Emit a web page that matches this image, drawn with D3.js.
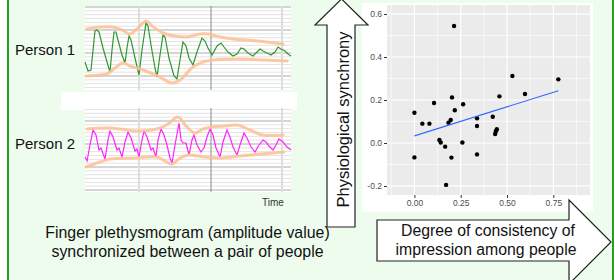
<!DOCTYPE html>
<html>
<head>
<meta charset="utf-8">
<script src="https://cdn.jsdelivr.net/npm/d3@7"></script>
<style>
body { margin: 0; background: #ffffff; }
svg { display: block; font-family: "Liberation Sans", Arial, sans-serif; }
</style>
</head>
<body>
<div class="chart"></div>
<script>
// Waveforms: [time sample, amplitude]
var person1Wave = [[0,28],[3,19],[6,20],[10,59],[12,60],[14,58],[18,42],[22,28],[25,18],[27,40],[29,58],[31,58],[33,50],
	[37,35],[40,27],[42,42],[44,54],[46,50],[50,32],[54,15],[57,40],[61,67],[63,64],[66,45],[70,22],[72,13],[75,35],
	[78,55],[80,53],[84,32],[89,14],[92,11],[95,30],[98,48],[101,44],[104,32],[108,25],[112,38],[117,52],[120,49],
	[123,42],[127,35],[132,44],[136,47],[139,43],[143,38],[148,34],[152,36],[156,42],[159,41],[163,37],[168,34],
	[171,37],[175,41],[178,39],[182,37],[186,35],[190,38],[193,43],[196,41],[200,39],[203,36],[206,34]];
var person1Upper = [[2,61],[15,63],[28,63],[37,60],[45,56],[53,62],[61,69],[67,64],[78,57],[90,54],[102,53],
	[115,56],[123,56],[135,53],[148,51],[173,49],[198,46]];
var person1Lower = [[1,14],[15,15],[22,16],[30,22],[38,27],[45,24],[58,20],[73,14],[87,7],[95,10],[108,23],
	[118,28],[128,30],[155,31],[180,30],[202,29]];

var person2Wave = [[0,35],[2,31],[5,47],[8,62],[11,57],[14,42],[16,44],[20,33],[23,52],[25,61],[28,55],[32,42],
	[34,44],[37,35],[40,50],[43,60],[46,54],[50,41],[52,43],[54,35],[57,52],[59,61],[62,55],[66,42],[68,44],[71,35],
	[73,52],[76,63],[79,57],[82,47],[85,34],[87,29],[90,47],[94,69],[96,52],[98,49],[101,49],[104,37],[107,52],
	[109,57],[112,47],[116,40],[119,44],[122,55],[125,63],[128,57],[131,44],[135,35],[138,50],[142,62],[145,55],
	[148,45],[152,37],[155,47],[159,59],[162,54],[166,45],[170,40],[174,47],[178,52],[181,50],[184,46],[188,42],
	[191,47],[194,53],[198,50],[202,45],[206,42]];
var person2Upper = [[2,63],[25,64],[55,61],[75,64],[83,68],[93,75],[101,66],[110,59],[118,63],[127,65],[140,66],
	[152,67],[165,62],[177,57],[198,57]];
var person2Lower = [[1,25],[15,30],[25,33],[50,34],[72,35],[80,31],[87,28],[95,34],[103,37],[120,35],[137,34],
	[155,36],[175,38],[199,40]];

// Scatter: consistency of impression vs physiological synchrony
var consistency = [0.214, 0.529, 0.777, 0.597, 0.459, 0.203, 0.106, 0.263, 0.218, 0.000, 0.338, 0.423, 0.196, 0.184,
	0.043, 0.081, 0.338, 0.445, 0.440, 0.436, 0.135, 0.142, 0.166, 0.259, 0.000, 0.200, 0.338, 0.171];
var synchrony = [0.544, 0.312, 0.296, 0.228, 0.217, 0.212, 0.186, 0.180, 0.152, 0.141, 0.115, 0.122, 0.107, 0.094,
	0.090, 0.090, 0.079, 0.064, 0.055, 0.042, 0.014, 0.002, -0.017, 0.002, -0.067, -0.068, -0.053, -0.195];
var fitLine = [[0, 0.033], [0.777, 0.243]];
var yTicks = [-0.2, 0.0, 0.2, 0.4, 0.6];
var yMinor = [-0.1, 0.1, 0.3, 0.5];
var xTicks = [0, 0.25, 0.5, 0.75];
var xMinor = [-0.125, 0.125, 0.375, 0.625, 0.875];

var width = 615;
var height = 280;

var svg = d3.select(".chart").append("svg")
	.attr("width", width)
	.attr("height", height);

// light green slide background with green side borders
svg.append("rect")
	.attr("x", 8).attr("y", 0)
	.attr("width", 605).attr("height", height)
	.attr("fill", "#eefcee");
[8, 613].forEach(function(xPos) {
	svg.append("line")
		.attr("x1", xPos).attr("x2", xPos)
		.attr("y1", 0).attr("y2", height)
		.attr("stroke", "#22a022")
		.attr("stroke-width", 2);
});

// white box between the two recordings
svg.append("rect")
	.attr("x", 61).attr("y", 92)
	.attr("width", 236).attr("height", 18)
	.attr("fill", "#ffffff");

function drawWave(top, gridStart, majorOffset, wave, upper, lower, color) {
	var x = d3.scaleLinear().domain([0, 206]).range([85, 291]);
	var y = d3.scaleLinear().domain([0, 84]).range([top + 84, top]);
	var g = svg.append("g");

	g.append("rect")
		.attr("x", 85).attr("y", top)
		.attr("width", 206).attr("height", 84)
		.attr("fill", "#ffffff");

	// horizontal grid: 6 minor steps per major step
	var step = 23 / 6;
	for(var k = 0; gridStart + k * step <= top + 84; k++) {
		var yy = gridStart + k * step;
		var major = (k - majorOffset) % 6 === 0;
		g.append("line")
			.attr("x1", 85).attr("x2", 291)
			.attr("y1", yy).attr("y2", yy)
			.attr("stroke", major ? "#ababab" : "#e4e4e4")
			.attr("stroke-width", 1);
	}

	// vertical grid
	[[54, "#dddddd", 2], [126, "#8a8a8a", 1], [197, "#dddddd", 2]].forEach(function(v) {
		g.append("line")
			.attr("x1", x(v[0])).attr("x2", x(v[0]))
			.attr("y1", top).attr("y2", top + 84)
			.attr("stroke", v[1])
			.attr("stroke-width", v[2]);
	});

	var line = d3.line()
		.x(function(d) { return x(d[0]); })
		.y(function(d) { return y(d[1]); });

	var envLine = d3.line()
		.curve(d3.curveCatmullRom.alpha(0.5))
		.x(function(d) { return x(d[0]); })
		.y(function(d) { return y(d[1]); });

	g.append("path")
		.attr("d", line(wave))
		.attr("fill", "none")
		.attr("stroke", color)
		.attr("stroke-width", 1.2);

	[upper, lower].forEach(function(env) {
		g.append("path")
			.attr("d", envLine(env))
			.attr("fill", "none")
			.attr("stroke", "#fdbf93")
			.attr("stroke-opacity", 0.85)
			.attr("stroke-width", 3)
			.attr("stroke-linecap", "round");
	});
}

drawWave(6, 7, 0, person1Wave, person1Upper, person1Lower, "#2e982e");
drawWave(108, 109.5, 3, person2Wave, person2Upper, person2Lower, "#ff22ff");

svg.append("text")
	.attr("x", 15).attr("y", 55)
	.attr("font-size", 15)
	.attr("fill", "#111")
	.text("Person 1");
svg.append("text")
	.attr("x", 15).attr("y", 149)
	.attr("font-size", 15)
	.attr("fill", "#111")
	.text("Person 2");
svg.append("text")
	.attr("x", 273).attr("y", 205.5)
	.attr("text-anchor", "middle")
	.attr("font-size", 10)
	.attr("fill", "#333")
	.text("Time");

svg.append("text")
	.attr("x", 187.5).attr("y", 238)
	.attr("text-anchor", "middle")
	.attr("font-size", 15.9)
	.attr("fill", "#111")
	.text("Finger plethysmogram (amplitude value)");
svg.append("text")
	.attr("x", 187.5).attr("y", 257)
	.attr("text-anchor", "middle")
	.attr("font-size", 15.9)
	.attr("fill", "#111")
	.text("synchronized between a pair of people");

// Scatter plot (ggplot look)
var sx = d3.scaleLinear().domain([-0.148, 0.948]).range([387, 590]);
var sy = d3.scaleLinear().domain([-0.242, 0.642]).range([195, 5]);

svg.append("rect")
	.attr("x", 362).attr("y", 3)
	.attr("width", 231).attr("height", 209)
	.attr("fill", "#ffffff");
svg.append("rect")
	.attr("x", 387).attr("y", 5)
	.attr("width", 203).attr("height", 190)
	.attr("fill", "#ebebeb");

var grid = svg.append("g").attr("stroke", "#ffffff");
yMinor.forEach(function(v) {
	grid.append("line").attr("x1", 387).attr("x2", 590).attr("y1", sy(v)).attr("y2", sy(v)).attr("stroke-width", 0.6);
});
xMinor.forEach(function(v) {
	grid.append("line").attr("y1", 5).attr("y2", 195).attr("x1", sx(v)).attr("x2", sx(v)).attr("stroke-width", 0.6);
});
yTicks.forEach(function(v) {
	grid.append("line").attr("x1", 387).attr("x2", 590).attr("y1", sy(v)).attr("y2", sy(v)).attr("stroke-width", 1.2);
});
xTicks.forEach(function(v) {
	grid.append("line").attr("y1", 5).attr("y2", 195).attr("x1", sx(v)).attr("x2", sx(v)).attr("stroke-width", 1.2);
});

var yAxis = svg.append("g")
	.attr("transform", "translate(387,0)")
	.call(d3.axisLeft(sy).tickValues(yTicks).tickSize(3).tickPadding(2)
		.tickFormat(function(d) { return d.toFixed(1); }));
var xAxis = svg.append("g")
	.attr("transform", "translate(0,195)")
	.call(d3.axisBottom(sx).tickValues(xTicks).tickSize(3).tickPadding(2)
		.tickFormat(function(d) { return d.toFixed(2); }));
[yAxis, xAxis].forEach(function(ax) {
	ax.select(".domain").remove();
	ax.selectAll("line").attr("stroke", "#333");
	ax.selectAll("text")
		.attr("fill", "#4d4d4d")
		.attr("font-size", 8.5)
		.attr("font-family", "Liberation Sans, Arial, sans-serif");
});

svg.append("g")
	.selectAll("circle")
	.data(consistency)
	.enter().append("circle")
	.attr("cx", function(d) { return sx(d); })
	.attr("cy", function(d, i) { return sy(synchrony[i]); })
	.attr("r", 2.2)
	.attr("fill", "#000");

svg.append("line")
	.attr("x1", sx(fitLine[0][0])).attr("y1", sy(fitLine[0][1]))
	.attr("x2", sx(fitLine[1][0])).attr("y2", sy(fitLine[1][1]))
	.attr("stroke", "#3366ff")
	.attr("stroke-width", 1.1);

// Arrows
svg.append("polygon")
	.attr("points", "341.5,-1 368,25 355,25 355,227 327,227 327,25 315,25")
	.attr("fill", "#ffffff")
	.attr("stroke", "#222")
	.attr("stroke-width", 1.2);
svg.append("text")
	.attr("transform", "translate(348.5,119.5) rotate(-90)")
	.attr("text-anchor", "middle")
	.attr("font-size", 16.5)
	.attr("fill", "#111")
	.text("Physiological synchrony");

svg.append("polygon")
	.attr("points", "377,220 569,220 569,200 611,242 569,284 569,261 377,261")
	.attr("fill", "#ffffff")
	.attr("stroke", "#222")
	.attr("stroke-width", 1.2);
svg.append("text")
	.attr("x", 488).attr("y", 236)
	.attr("text-anchor", "middle")
	.attr("font-size", 15.8)
	.attr("fill", "#111")
	.text("Degree of consistency of");
svg.append("text")
	.attr("x", 486).attr("y", 255)
	.attr("text-anchor", "middle")
	.attr("font-size", 15.8)
	.attr("fill", "#111")
	.text("impression among people");
</script>
</body>
</html>
